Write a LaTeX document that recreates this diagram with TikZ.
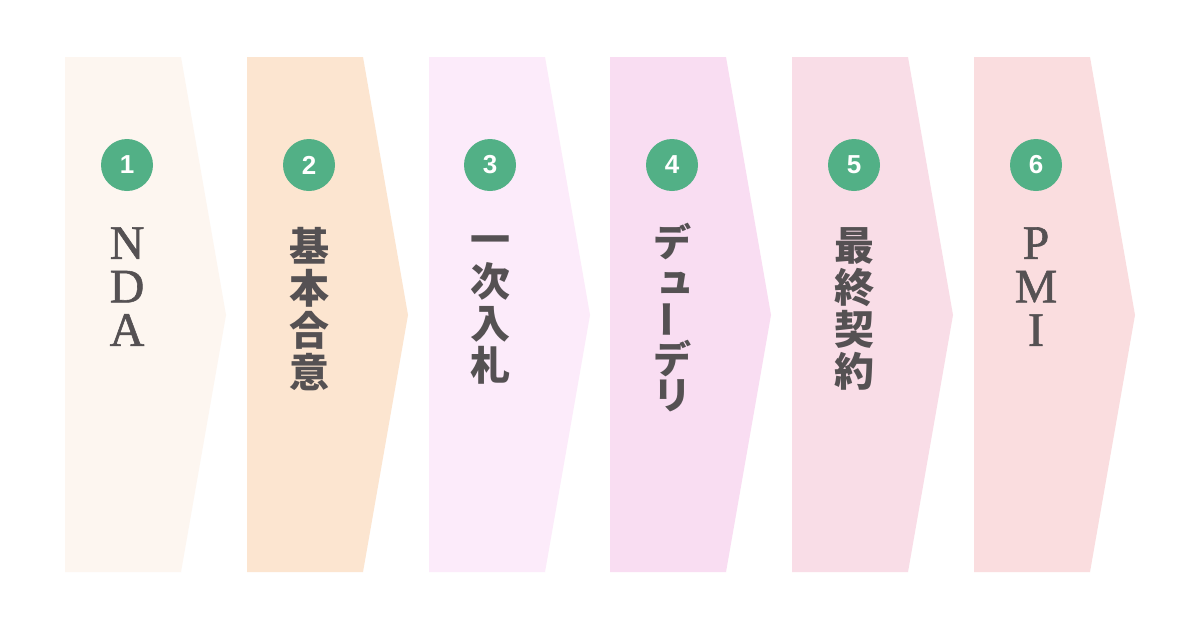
\documentclass[tikz,border=0pt]{standalone}
\usepackage{fontspec}
\usepackage{tikz}
\usetikzlibrary{positioning}
\newfontfamily\jpfont{Noto Sans CJK JP}
\newfontfamily\latinfont[FakeBold=1.2]{Liberation Serif}
\newfontfamily\numfont{Liberation Sans}
\definecolor{panelA}{HTML}{FDF6F0}
\definecolor{panelB}{HTML}{FCE5D0}
\definecolor{panelC}{HTML}{FCEBFA}
\definecolor{panelD}{HTML}{F9DDF2}
\definecolor{panelE}{HTML}{F9DDE7}
\definecolor{panelF}{HTML}{FADDDF}
\definecolor{stepgreen}{HTML}{52B086}
\definecolor{labelgray}{HTML}{555153}
\tikzset{
  x = 1pt,
  y = -1pt,
  node distance = 36pt,
  stepnum/.style = {circle, fill = stepgreen, minimum size = 52pt, inner sep = 0pt,
    text = white, font = \numfont\bfseries\fontsize{26}{26}\selectfont},
  latinlabel/.style = {anchor = north, inner sep = 0pt, align = center, text = labelgray,
    font = \latinfont\fontsize{48}{43.5}\selectfont},
  jplabel/.style = {anchor = north, inner sep = 0pt, align = center, text = labelgray,
    font = \jpfont\bfseries\fontsize{40}{42}\selectfont},
}

\begin{document}
\begin{tikzpicture}
    \useasboundingbox (0,0) rectangle (1200,630);
    \fill[white] (0,0) rectangle (1200,630);
    % panels
    \fill[panelA] (65,57) -- (181,57) -- (226,315) -- (181,572) -- (65,572) -- cycle;
    \fill[panelB] (247,57) -- (363,57) -- (408,315) -- (363,572) -- (247,572) -- cycle;
    \fill[panelC] (429,57) -- (545,57) -- (590,315) -- (545,572) -- (429,572) -- cycle;
    \fill[panelD] (610,57) -- (726,57) -- (771,315) -- (726,572) -- (610,572) -- cycle;
    \fill[panelE] (792,57) -- (908,57) -- (953,315) -- (908,572) -- (792,572) -- cycle;
    \fill[panelF] (974,57) -- (1090,57) -- (1135,315) -- (1090,572) -- (974,572) -- cycle;
    % step numbers
    \node[stepnum] (n1) at (127,165) {1};
    \node[stepnum] (n2) at (309,165) {2};
    \node[stepnum] (n3) at (490,165) {3};
    \node[stepnum] (n4) at (672,165) {4};
    \node[stepnum] (n5) at (854,165) {5};
    \node[stepnum] (n6) at (1036,165) {6};
    % labels
    \node[latinlabel, below = of n1] (nda) {N\\D\\A};
    \node[jplabel, below = of n2] (kihon) {基\\本\\合\\意};
    \node[jplabel, below = 44pt of n3] (nyusatsu) {一\\次\\入\\札};
    \node[jplabel, below = 32pt of n4, font = \jpfont\bfseries\fontsize{38}{36}\selectfont] (dd)
      {デ\\\hspace*{6pt}ュ\\\rotatebox[origin=c]{90}{ー}\\デ\\リ};
    \node[jplabel, below = of n5] (saishu) {最\\終\\契\\約};
    \node[latinlabel, below = of n6] (pmi) {P\\M\\I};
\end{tikzpicture}
\end{document}
